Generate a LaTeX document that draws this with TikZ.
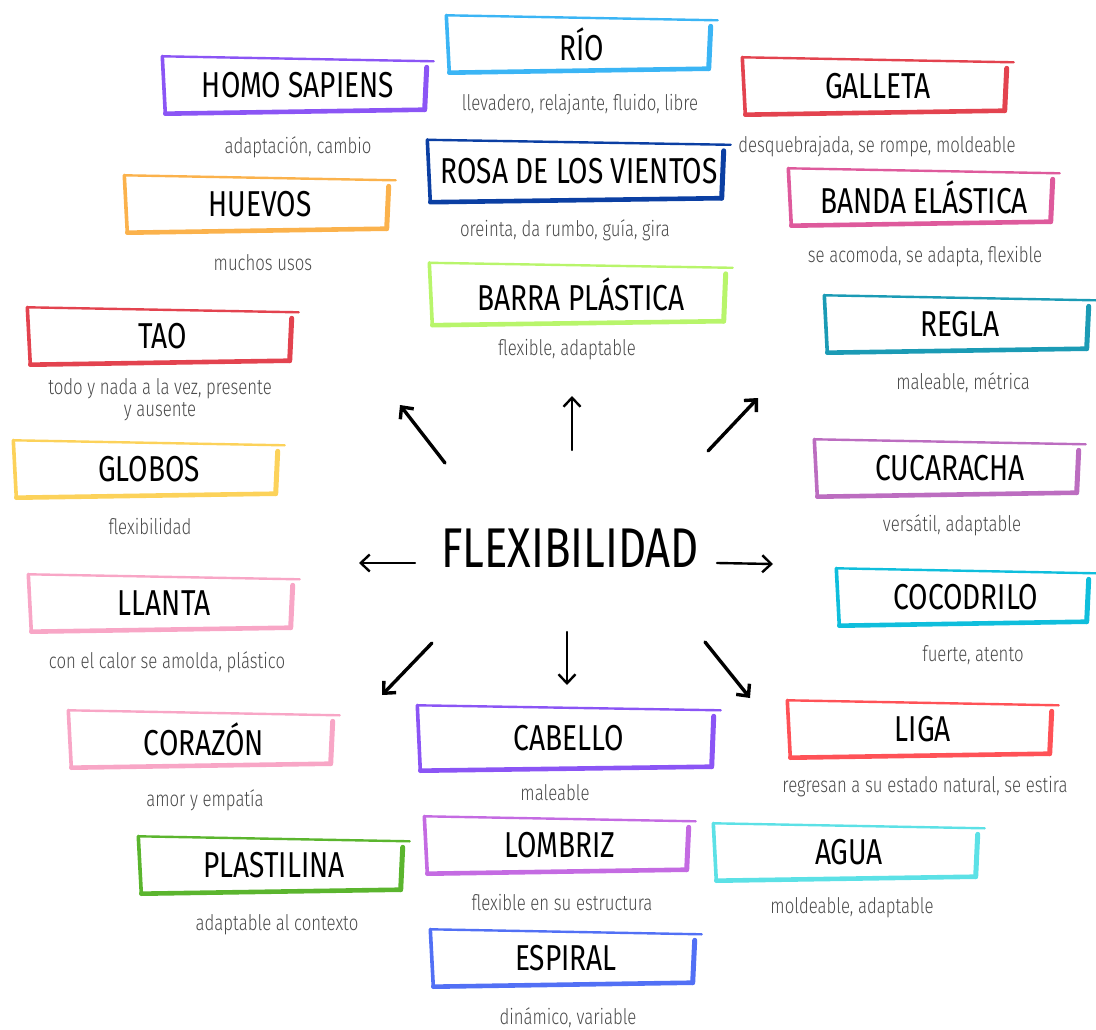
\documentclass[tikz,border=0pt]{standalone}
\usepackage{fontspec}
\setmainfont{Fira Sans}[FakeStretch=0.78]
\newfontfamily\notefont{Fira Sans Light}[FakeStretch=0.78]
\usetikzlibrary{arrows.meta}

\definecolor{cPurple}{HTML}{8B55F5}
\definecolor{cSky}{HTML}{3BB5F5}
\definecolor{cRed}{HTML}{E3434F}
\definecolor{cNavy}{HTML}{0B3FA3}
\definecolor{cRose}{HTML}{DE5A9C}
\definecolor{cOrange}{HTML}{FBB24C}
\definecolor{cLime}{HTML}{B8F56B}
\definecolor{cTeal}{HTML}{1B9BB5}
\definecolor{cYellow}{HTML}{FCD25A}
\definecolor{cOrchid}{HTML}{BC6DC0}
\definecolor{cPink}{HTML}{F8A6C6}
\definecolor{cCyan}{HTML}{0FBEDC}
\definecolor{cCoral}{HTML}{FF5257}
\definecolor{cGreen}{HTML}{5BB52E}
\definecolor{cViolet}{HTML}{C46BE2}
\definecolor{cAqua}{HTML}{5CE1E6}
\definecolor{cBlue}{HTML}{5270F5}
\definecolor{subgray}{HTML}{4A4A4A}

% hand drawn frame round a card node
\newcommand{\brushframe}[2]{%
  \draw[#2, line width=2.4pt, line cap=round] (#1.north west) -- ([yshift=-5pt]#1.north east);
  \draw[#2, line width=3.6pt, line cap=round] (#1.north west) -- ([xshift=3pt]#1.south west);
  \draw[#2, line width=4.6pt, line cap=round] ([xshift=3pt]#1.south west) -- ([xshift=-9pt,yshift=4pt]#1.south east);
  \draw[#2, line width=5pt, line cap=round] ([xshift=-9pt,yshift=4pt]#1.south east) -- ([xshift=-7pt,yshift=-11pt]#1.north east);
}

\begin{document}
\begin{tikzpicture}[x=1pt, y=-1pt,
  card/.style={minimum width=271pt, minimum height=57pt, inner sep=0pt,
    font=\fontsize{36}{38}\selectfont},
  widecard/.style={card, minimum width=303pt, minimum height=62pt},
  note/.style={text=subgray, inner sep=0pt, align=center,
    font=\notefont\fontsize{21.5}{22}\selectfont},
  spoke/.style={-{Straight Barb[length=9pt,width=17pt]}, line cap=round}]

\useasboundingbox (0,0) rectangle (1096,1030);

\node[font=\fontsize{56}{60}\selectfont] (flex) at (570,548) {FLEXIBILIDAD};

% cards
\node[card] (rio) at (582,44) {RÍO};
\node[card] (homo) at (298,85) {HOMO SAPIENS};
\node[card] (galleta) at (878,86) {GALLETA};
\node[widecard] (rosa) at (579,171) {ROSA DE LOS VIENTOS};
\node[card] (banda) at (924,197) {BANDA ELÁSTICA};
\node[card] (huevos) at (260,204) {HUEVOS};
\node[widecard] (barra) at (581,294) {BARRA PLÁSTICA};
\node[card] (tao) at (163,336) {TAO};
\node[card] (regla) at (960,324) {REGLA};
\node[card] (globos) at (149,469) {GLOBOS};
\node[card] (cucaracha) at (950,468) {CUCARACHA};
\node[card] (llanta) at (164,603) {LLANTA};
\node[card, minimum width=259pt] (cocodrilo) at (966,597) {COCODRILO};
\node[card] (corazon) at (204,739) {CORAZÓN};
\node[widecard, minimum height=65pt] (cabello) at (569,738) {CABELLO};
\node[card] (liga) at (923,729) {LIGA};
\node[card] (plastilina) at (274,865) {PLASTILINA};
\node[card] (lombriz) at (560,845) {LOMBRIZ};
\node[card] (agua) at (849,852) {AGUA};
\node[card] (espiral) at (566,958) {ESPIRAL};

\brushframe{rio}{cSky}
\brushframe{homo}{cPurple}
\brushframe{galleta}{cRed}
\brushframe{rosa}{cNavy}
\brushframe{banda}{cRose}
\brushframe{huevos}{cOrange}
\brushframe{barra}{cLime}
\brushframe{tao}{cRed}
\brushframe{regla}{cTeal}
\brushframe{globos}{cYellow}
\brushframe{cucaracha}{cOrchid}
\brushframe{llanta}{cPink}
\brushframe{cocodrilo}{cCyan}
\brushframe{corazon}{cPink}
\brushframe{cabello}{cPurple}
\brushframe{liga}{cCoral}
\brushframe{plastilina}{cGreen}
\brushframe{lombriz}{cViolet}
\brushframe{agua}{cAqua}
\brushframe{espiral}{cBlue}

% notes under the cards
\node[note] (rio-note) at (580,105) {llevadero, relajante, fluido, libre};
\node[note] (homo-note) at (298,147) {adaptación, cambio};
\node[note] (galleta-note) at (877,147) {desquebrajada, se rompe, moldeable};
\node[note] (rosa-note) at (565,230) {oreinta, da rumbo, guía, gira};
\node[note] (banda-note) at (925,257) {se acomoda, se adapta, flexible};
\node[note] (huevos-note) at (263,263) {muchos usos};
\node[note] (barra-note) at (567,350) {flexible, adaptable};
\node[note] (tao-note) at (160,400) {todo y nada a la vez, presente\\ y ausente};
\node[note] (regla-note) at (963,383) {maleable, métrica};
\node[note] (globos-note) at (150,527) {flexibilidad};
\node[note] (cucaracha-note) at (952,525) {versátil, adaptable};
\node[note] (llanta-note) at (167,662) {con el calor se amolda, plástico};
\node[note] (cocodrilo-note) at (973,655) {fuerte, atento};
\node[note] (corazon-note) at (205,800) {amor y empatía};
\node[note] (cabello-note) at (555,793) {maleable};
\node[note] (liga-note) at (925,787) {regresan a su estado natural, se estira};
\node[note] (plastilina-note) at (277,925) {adaptable al contexto};
\node[note] (lombriz-note) at (562,903) {flexible en su estructura};
\node[note] (agua-note) at (852,908) {moldeable, adaptable};
\node[note] (espiral-note) at (568,1018) {dinámico, variable};

% arrows round the centre
\foreach \n/\ax/\ay/\bx/\by/\lw in {nw/445/463/400/405/3.4, n/572/450/572/396/2.4,
    ne/708/451/758/398/3.4, w/415/563/359/563/2.4, e/717/563/773/564/2.4,
    sw/432/643/382/695/3.4, s/567/632/567/685/2.4, se/705/642/750/698/3.4} {
  \coordinate (\n-from) at (\ax,\ay);
  \coordinate (\n-to) at (\bx,\by);
  \draw[spoke, line width=\lw pt] (\n-from) -- (\n-to);
}
\end{tikzpicture}
\end{document}
